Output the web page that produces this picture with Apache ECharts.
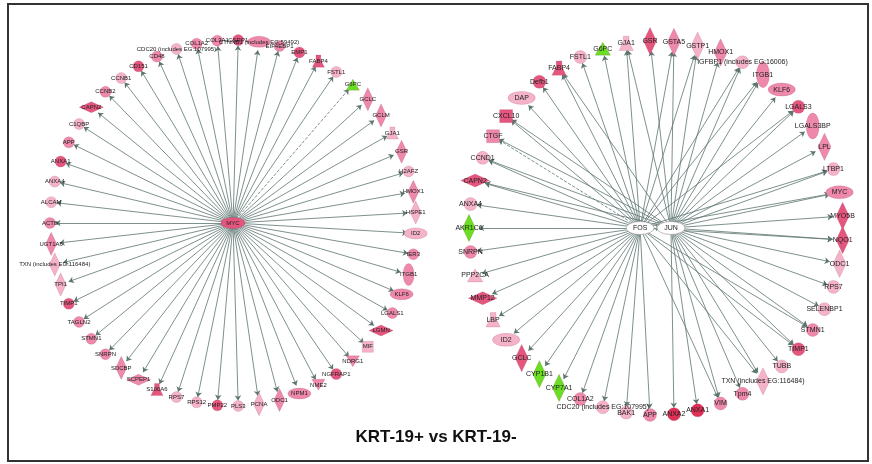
<!DOCTYPE html>
<html>
<head>
<meta charset="utf-8">
<script src="https://cdn.jsdelivr.net/npm/echarts@6/dist/echarts.min.js"></script>
<style>
html, body {margin:0; padding:0; background:#fff;}
#main {width:872px; height:464px;}
</style>
</head>
<body>
<div id="main"></div>
<script>
// left network: MYC targets, clockwise from 9 o'clock
var leftHub = 'MYC';
var leftGenes = ['ACTB','ALCAM','ANXA4','ANXA1','APP','C1QBP','CAPN2','CCNB2','CCNB1','CD151','CD48',
    'CDC20 (includes EG:107995)','COL1A2','COL3A1','CSRP1','CTNNB1 (includes EG:59492)','EIF4EBP1','EMP1',
    'FABP4','FSTL1','G6PC','GCLC','GCLM','GJA1','GSR','H2AFZ','HMOX1','HSPE1','ID2','IER3','ITGB1','KLF6',
    'LGALS1','LGMN','MIF','NDRG1','NGFRAP1','NME2','NPM1','ODC1','PCNA','PLS3','PMP22','RPS12','RPS7',
    'S100A6','SCPEP1','SDCBP','SNRPN','STMN1','TAGLN2','TIMP1','TPI1','TXN (includes EG:116484)','UGT1A6'];
// molecule type: o other, h transcription regulator, v receptor, d enzyme, p peptidase,
// t transporter, s cytokine / growth factor, a phosphatase, k kinase
var leftTypes = ['o','o','o','o','o','o','p','o','o','o','o',
    'o','o','o','o','h','o','o',
    't','o','a','d','d','t','d','o','d','d','h','o','v','h',
    'o','p','s','k','o','k','h','d','d','o','o','o','o',
    't','p','d','o','o','o','o','d','d','d'];
// expression level: 1..4 up, -1 down
var leftLevels = [2,1,1,3,2,1,3,2,1,3,2,
    1,2,2,3,2,2,3,
    3,1,-1,2,2,1,2,1,2,1,1,2,2,2,
    2,3,1,2,3,2,2,2,1,1,3,1,1,
    3,2,2,2,2,2,3,1,1,2];
var leftDashed = ['G6PC'];

// right network: FOS / JUN targets, clockwise from 9 o'clock
var rightGenes = ['AKR1C6','ANXA4','CAPN2','CCND1','CTGF','CXCL10','DAP','Defb1','FABP4','FSTL1','G6PC',
    'GJA1','GSR','GSTA5','GSTP1','HMOX1','IGFBP1 (includes EG:16006)','ITGB1','KLF6','LGALS3','LGALS3BP',
    'LPL','LTBP1','MYC','MYO5B','NQO1','ODC1','RPS7','SELENBP1','STMN1','TIMP1','TUBB',
    'TXN (includes EG:116484)','Tpm4','VIM','ANXA1','ANXA2','APP','BAK1','CDC20 (includes EG:107995)',
    'COL1A2','CYP7A1','CYP1B1','GCLC','ID2','LBP','MMP12','PPP2CA','SNRPN'];
var rightTypes = ['d','o','p','o','s','s','h','o','t','o','a',
    't','d','d','d','d','o','v','h','o','v',
    'd','o','h','d','d','d','o','o','o','o','o',
    'd','o','o','o','o','o','o','o',
    'o','d','d','d','h','t','p','a','o'];
var rightLevels = [-1,1,3,1,2,3,1,3,3,1,-1,
    1,3,2,1,2,1,2,2,3,2,
    2,1,2,3,3,1,1,1,2,3,1,
    1,2,2,4,4,2,1,1,
    2,-1,-1,3,1,1,3,1,2];
// which hub regulates each target
var rightRegs = ['F','F','FJ','FJ','FJ','FJ','F','F','FJ','F','F',
    'FJ','J','FJ','FJ','J','FJ','FJ','J','FJ','J',
    'J','FJ','FJ','J','FJ','J','J','J','FJ','FJ','J',
    'FJ','J','FJ','J','J','F','F','F',
    'F','F','F','F','F','F','F','F','F'];
var rightDashed = ['CTGF'];

var levelColors = {'-1':'#6ade22', '1':'#f5b3c9', '2':'#ee89ab', '3':'#e5567f', '4':'#df2f55'};
var edgeColor = '#5d7571';

function shapeOf(type, d) {
    switch (type) {
        case 'h': return ['circle', [d * 2.1, d]];
        case 'v': return ['circle', [d, d * 2]];
        case 'd': return ['diamond', [d, d * 2.1]];
        case 'p': return ['diamond', [d * 2.2, d]];
        case 't': return ['path://M3,0 L7,0 L7,4 L10,10 L0,10 L3,4 Z', [d * 1.1, d * 1.1]];
        case 's': return ['rect', [d, d]];
        case 'a': return ['triangle', [d * 1.2, d]];
        case 'k': return ['path://M0,0 L10,0 L5,9 Z', [d * 1.2, d]];
    }
    return ['circle', [d, d]];
}

function ringNodes(genes, types, levels, d, fontSize) {
    return genes.map(function (g, i) {
        var s = shapeOf(types[i], d);
        return {
            name: g,
            value: [1, i],
            symbol: s[0],
            symbolSize: s[1],
            itemStyle: {color: levelColors[levels[i]], borderColor: 'rgba(150,50,80,0.35)', borderWidth: 0.5},
            label: {fontSize: fontSize}
        };
    });
}

function edge(src, tgt, dashed) {
    return {
        source: src,
        target: tgt,
        lineStyle: {type: dashed ? 'dashed' : 'solid'}
    };
}

// left
var leftNodes = ringNodes(leftGenes, leftTypes, leftLevels, 11, 6);
leftNodes.push({
    name: leftHub, value: [0, 0], symbol: 'circle', symbolSize: [24, 11],
    itemStyle: {color: levelColors[3], borderColor: 'rgba(150,50,80,0.4)', borderWidth: 0.5},
    label: {fontSize: 6}
});
var leftLinks = leftGenes.map(function (g) {
    return edge(leftHub, g, leftDashed.indexOf(g) >= 0);
});

// right
var rightNodes = ringNodes(rightGenes, rightTypes, rightLevels, 13, 7);
rightNodes.push({
    name: 'FOS', value: [0.085, 0], symbol: 'circle', symbolSize: [28, 13],
    itemStyle: {color: '#fff', borderColor: '#999', borderWidth: 0.6}, label: {fontSize: 7}
});
rightNodes.push({
    name: 'JUN', value: [0.08, rightGenes.length / 2], symbol: 'circle', symbolSize: [28, 13],
    itemStyle: {color: '#fff', borderColor: '#999', borderWidth: 0.6}, label: {fontSize: 7}
});
var rightLinks = [];
rightGenes.forEach(function (g, i) {
    var dash = rightDashed.indexOf(g) >= 0;
    if (rightRegs[i].indexOf('F') >= 0) rightLinks.push(edge('FOS', g, dash));
    if (rightRegs[i].indexOf('J') >= 0) rightLinks.push(edge('JUN', g, false));
});
rightLinks.push(edge('FOS', 'JUN', false));

var chart = echarts.init(document.getElementById('main'));
var graphBase = {
    type: 'graph',
    coordinateSystem: 'polar',
    edgeSymbol: ['none', 'arrow'],
    edgeSymbolSize: [0, 5],
    label: {show: true, position: 'inside', color: '#222', fontFamily: 'Arial', fontSize: 6},
    lineStyle: {color: edgeColor, width: 0.8, opacity: 1, curveness: 0},
    emphasis: {disabled: true},
    animation: false
};

chart.setOption({
    animation: false,
    polar: [
        {center: [233, 223], radius: 183},
        {center: [656, 228], radius: 187}
    ],
    angleAxis: [
        {polarIndex: 0, type: 'value', min: 0, max: leftGenes.length, startAngle: 180, clockwise: true, show: false},
        {polarIndex: 1, type: 'value', min: 0, max: rightGenes.length, startAngle: 180, clockwise: true, show: false}
    ],
    radiusAxis: [
        {polarIndex: 0, type: 'value', min: 0, max: 1, show: false},
        {polarIndex: 1, type: 'value', min: 0, max: 1, show: false}
    ],
    graphic: [
        {
            type: 'rect',
            shape: {x: 8, y: 4, width: 860, height: 457},
            style: {fill: 'none', stroke: '#333', lineWidth: 2}
        },
        {
            type: 'text',
            left: 'center',
            top: 429,
            style: {text: 'KRT-19+ vs KRT-19-', font: 'bold 17px Arial', fill: '#111'}
        }
    ],
    series: [
        echarts.util.extend({polarIndex: 0, data: leftNodes, links: leftLinks}, graphBase),
        echarts.util.extend({polarIndex: 1, data: rightNodes, links: rightLinks}, graphBase)
    ]
});
</script>
</body>
</html>
